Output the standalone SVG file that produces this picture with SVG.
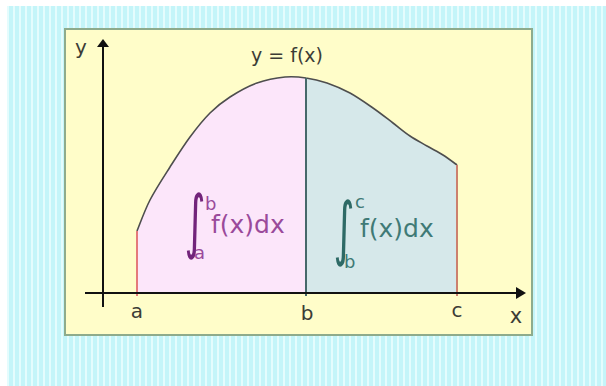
<svg xmlns="http://www.w3.org/2000/svg" width="606" height="386" viewBox="0 0 606 386">
<defs>
<pattern id="stripes" x="7" y="0" width="6" height="10" patternUnits="userSpaceOnUse">
<rect width="6" height="10" fill="#c4f5f9"/>
<rect x="0" width="2" height="10" fill="#e4fcfd"/>
</pattern>
<style>
.lbl{font-family:"DejaVu Sans",Verdana,sans-serif;fill:#3c3c36;}
.axis{stroke:#111;stroke-width:2;fill:none;}
.pk{font-family:"DejaVu Sans",Verdana,sans-serif;fill:#9a4a9a;}
.tl{font-family:"DejaVu Sans",Verdana,sans-serif;fill:#3f7a76;}
.int{font-family:"DejaVu Sans",sans-serif;font-size:62px;text-anchor:middle;}
</style>
</defs>
<rect width="606" height="386" fill="#ffffff"/>
<rect x="7" y="6" width="599" height="380" fill="url(#stripes)"/>
<g id="panel">
<rect x="65" y="29" width="467" height="306" fill="#fffdc9" stroke="#8eab8c" stroke-width="2"/>
</g>
<g id="regions">
<path id="region-ab" fill="#fce6fa" d="M137,293 L137,231 C139.2,225.8 144.5,210.7 150,200 C155.5,189.3 163.3,177.5 170,167 C176.7,156.5 183.3,146 190,137 C196.7,128 203.3,119.7 210,113 C216.7,106.3 222.2,102 230,97 C237.8,92 247.8,86.3 257,83 C266.2,79.7 276.7,77.8 285,77 C293.3,76.2 300,77 306,78 L306,293 Z"/>
<path id="region-bc" fill="#d6e8ea" d="M306,293 L306,78 C314,79 319.8,80.5 327,83 C334.2,85.5 342.3,88.8 350,93 C357.7,97.2 365.8,103 373,108 C380.2,113 386.8,118.3 393,123 C399.2,127.7 404.3,132.2 410,136 C415.7,139.8 421.5,142.8 427,146 C432.5,149.2 438,151.8 443,155 C448,158.2 454.7,163.3 457,165 L457,293 Z"/>
</g>
<g id="curve">
<path fill="none" stroke="#4e4e4e" stroke-width="1.6" d="M137,231 C139.2,225.8 144.5,210.7 150,200 C155.5,189.3 163.3,177.5 170,167 C176.7,156.5 183.3,146 190,137 C196.7,128 203.3,119.7 210,113 C216.7,106.3 222.2,102 230,97 C237.8,92 247.8,86.3 257,83 C266.2,79.7 276.7,77.8 285,77 C293.3,76.2 300,77 306,78 C314,79 319.8,80.5 327,83 C334.2,85.5 342.3,88.8 350,93 C357.7,97.2 365.8,103 373,108 C380.2,113 386.8,118.3 393,123 C399.2,127.7 404.3,132.2 410,136 C415.7,139.8 421.5,142.8 427,146 C432.5,149.2 438,151.8 443,155 C448,158.2 454.7,163.3 457,165"/>
</g>
<g id="connectors">
<line x1="137" y1="231" x2="137" y2="296" stroke="#e47a7a" stroke-width="2"/>
<line x1="457" y1="165" x2="457" y2="296" stroke="#cc806e" stroke-width="2"/>
<line x1="306" y1="78" x2="306" y2="296" stroke="#46686a" stroke-width="2"/>
<line class="axis" x1="103" y1="307" x2="103" y2="46"/>
<polygon points="103,39 97,47 109,47" fill="#111"/>
<line class="axis" x1="85" y1="293" x2="518" y2="293"/>
<polygon points="526,293 516,287 516,299" fill="#111"/>
</g>
<g id="labels">
<text class="lbl" x="81" y="54" font-size="20" text-anchor="middle">y</text>
<text class="lbl" x="287" y="62" font-size="19" text-anchor="middle">y = f(x)</text>
<text class="lbl" x="137" y="318" font-size="20" text-anchor="middle">a</text>
<text class="lbl" x="307" y="320" font-size="20" text-anchor="middle">b</text>
<text class="lbl" x="457" y="317" font-size="20" text-anchor="middle">c</text>
<text class="lbl" x="516" y="323" font-size="21" text-anchor="middle">x</text>
</g>
<g id="integral-ab">
<text class="int" transform="translate(195,245) scale(0.65,1.12)" fill="#72247a">∫</text>
<text class="pk" x="205" y="210" font-size="18">b</text>
<text class="pk" x="194" y="259" font-size="18">a</text>
<text class="pk" x="211" y="233" font-size="25">f(x)dx</text>
</g>
<g id="integral-bc">
<text class="int" transform="translate(344,252) scale(0.65,1.12)" fill="#2e6a66">∫</text>
<text class="tl" x="355" y="208" font-size="18">c</text>
<text class="tl" x="344" y="268" font-size="18">b</text>
<text class="tl" x="360" y="237" font-size="25">f(x)dx</text>
</g>
</svg>
